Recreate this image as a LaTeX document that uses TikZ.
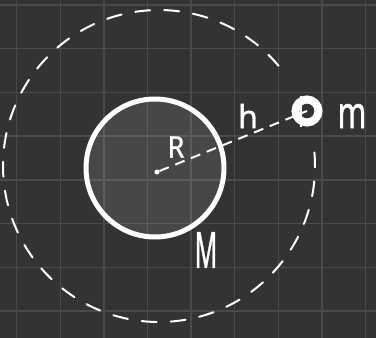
\documentclass[tikz,border=0pt]{standalone}
\usepackage{fontspec}
\newfontfamily\hand{Noto Sans}[FakeBold=1.2]
\usetikzlibrary{positioning}
\definecolor{board}{HTML}{333333}
\definecolor{gridline}{HTML}{4A4A4A}
\definecolor{chalk}{HTML}{FFFFFF}

\begin{document}
\begin{tikzpicture}[
  x=1pt, y=-1pt,
  gridln/.style={draw=gridline, line width=1.4pt},
  planet/.style={circle, draw=chalk, line width=5pt, fill=chalk,
                 fill opacity=0.1, draw opacity=1,
                 minimum size=138pt, inner sep=0pt},
  mass/.style={circle, draw=chalk, line width=8pt,
               minimum size=23pt, inner sep=0pt},
  core/.style={circle, fill=chalk, minimum size=5pt, inner sep=0pt},
  orbit/.style={draw=chalk, line width=2pt, line cap=round,
                dash pattern=on 15pt off 14pt},
  spoke/.style={draw=chalk, line width=2pt, dash pattern=on 10pt off 7pt},
  notch/.style={draw=chalk, line width=2pt},
  lab/.style={text=chalk, inner sep=0pt, font=\hand\bfseries},
]
\fill[board] (0,0) rectangle (376,338);
\useasboundingbox (0,0) rectangle (376,338);

% board grid
\foreach \i in {0,...,8}
  \draw[gridln] ({16.7+43.6*\i},0) -- ({16.7+43.6*\i},338);
\foreach \j in {0,...,7}
  \draw[gridln] (0,{5+43.7*\j}) -- (376,{5+43.7*\j});

% orbit, open where the small mass sits
\draw[orbit] (159,166) ++(-5:156) arc[start angle=-5, end angle=323, radius=156];

\node[planet] (earth) at (155,168) {};
\node[core] (ctr) at (157,172) {};
\node[mass] (sat) at (307,111) {};

\draw[spoke] (ctr) -- (sat.center);
\draw[notch] ([xshift=-6pt]sat.north) -- ([xshift=-6pt]sat.south);

\node[lab] (rlab) at (176,147) {\fontsize{30}{34}\selectfont\scalebox{0.9}[1]{R}};
\node[lab] (hlab) at (248,116) {\fontsize{32}{36}\selectfont h};
\node[lab] (mlab) at (352,116) {\fontsize{44}{48}\selectfont\scalebox{0.7}[1]{m}};
\node[lab] (Mlab) at (206,250) {\fontsize{50}{54}\selectfont\scalebox{0.5}[1]{M}};
\end{tikzpicture}
\end{document}
